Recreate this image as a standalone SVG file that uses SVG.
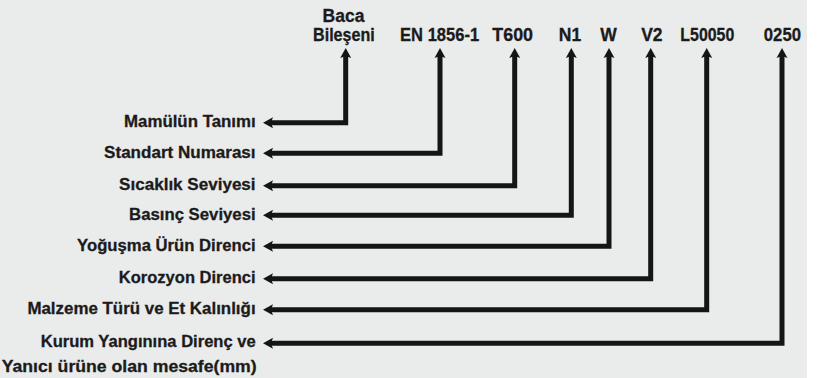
<svg xmlns="http://www.w3.org/2000/svg" width="825" height="378" viewBox="0 0 825 378">
  <style>
    .lbl { font-family: "Liberation Sans", Arial, sans-serif; font-weight: bold; font-size: 17px; fill: #1b1b1b; stroke: #1b1b1b; stroke-width: 0.3; text-anchor: end; }
    .code { font-family: "Liberation Sans", Arial, sans-serif; font-weight: bold; font-size: 17.5px; fill: #1b1b1b; stroke: #1b1b1b; stroke-width: 0.3; text-anchor: middle; }
    .conn { fill: none; stroke: #151515; stroke-width: 5; stroke-linejoin: miter; marker-start: url(#arr); marker-end: url(#arr); }
  </style>
  <defs>
    <marker id="arr" markerUnits="userSpaceOnUse" viewBox="-1 -7 13 14" markerWidth="13" markerHeight="14" refX="3" refY="0" orient="auto-start-reverse" overflow="visible">
      <path d="M10,0 L0,-5.5 L2,0 L0,5.5 Z" fill="#151515"/>
    </marker>
  </defs>
  <rect x="0" y="0" width="825" height="378" fill="#ffffff"/>
  <rect x="0" y="0" width="807" height="378" fill="#eaebeb"/>

  <g id="connectors">
    <path class="conn" d="M345.7,55 V122.7 H270"/>
    <path class="conn" d="M440,55 V153.3 H270"/>
    <path class="conn" d="M514.7,55 V185.7 H270"/>
    <path class="conn" d="M571.3,55 V215.3 H270"/>
    <path class="conn" d="M609,55 V246.3 H270"/>
    <path class="conn" d="M650.7,55 V278.7 H270"/>
    <path class="conn" d="M706.7,55 V309.7 H270"/>
    <path class="conn" d="M782,55 V343.3 H270"/>
  </g>

  <g id="code-baca"><text class="code" x="343.5" y="21.6">Baca</text><text class="code" x="343.9" y="41.1" textLength="61.6" lengthAdjust="spacingAndGlyphs">Bileşeni</text></g>
  <g id="code-en"><text class="code" x="439.6" y="41.1" textLength="79" lengthAdjust="spacingAndGlyphs">EN 1856-1</text></g>
  <g id="code-t600"><text class="code" x="512.7" y="41.1" textLength="40.7" lengthAdjust="spacingAndGlyphs">T600</text></g>
  <g id="code-n1"><text class="code" x="570" y="41.1">N1</text></g>
  <g id="code-w"><text class="code" x="608.5" y="41.1">W</text></g>
  <g id="code-v2"><text class="code" x="651.9" y="41.1">V2</text></g>
  <g id="code-l50050"><text class="code" x="707.3" y="41.1" textLength="53.9" lengthAdjust="spacingAndGlyphs">L50050</text></g>
  <g id="code-0250"><text class="code" x="782.4" y="41.1" textLength="37.2" lengthAdjust="spacingAndGlyphs">0250</text></g>

  <g id="lbl-mamul"><text class="lbl" x="255.7" y="127.3" textLength="131.7" lengthAdjust="spacingAndGlyphs">Mamülün Tanımı</text></g>
  <g id="lbl-standart"><text class="lbl" x="255.6" y="158" textLength="151.5" lengthAdjust="spacingAndGlyphs">Standart Numarası</text></g>
  <g id="lbl-sicaklik"><text class="lbl" x="255.6" y="190.3" textLength="136.5" lengthAdjust="spacingAndGlyphs">Sıcaklık Seviyesi</text></g>
  <g id="lbl-basinc"><text class="lbl" x="255.6" y="219.9" textLength="126.5" lengthAdjust="spacingAndGlyphs">Basınç Seviyesi</text></g>
  <g id="lbl-yogusma"><text class="lbl" x="255.6" y="250.9" textLength="178.5" lengthAdjust="spacingAndGlyphs">Yoğuşma Ürün Direnci</text></g>
  <g id="lbl-korozyon"><text class="lbl" x="255.6" y="283.3" textLength="136.8" lengthAdjust="spacingAndGlyphs">Korozyon Direnci</text></g>
  <g id="lbl-malzeme"><text class="lbl" x="255.6" y="314.3" textLength="228.2" lengthAdjust="spacingAndGlyphs">Malzeme Türü ve Et Kalınlığı</text></g>
  <g id="lbl-kurum">
    <text class="lbl" x="255.7" y="347.4" textLength="215" lengthAdjust="spacingAndGlyphs">Kurum Yangınına Direnç ve</text>
    <text class="lbl" x="256.7" y="371.6" textLength="255" lengthAdjust="spacingAndGlyphs">Yanıcı ürüne olan mesafe(mm)</text>
  </g>
</svg>
